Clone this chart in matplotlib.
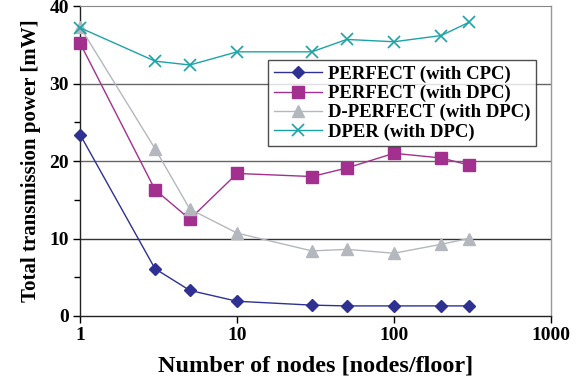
import matplotlib
matplotlib.use("Agg")
import matplotlib.pyplot as plt
from matplotlib.ticker import FixedLocator, NullLocator

nodes = [1, 3, 5, 10, 30, 50, 100, 200, 300]
perfect_cpc = [23.4, 6.1, 3.3, 1.9, 1.4, 1.3, 1.3, 1.3, 1.3]
perfect_dpc = [35.2, 16.3, 12.5, 18.4, 18.0, 19.1, 21.0, 20.4, 19.5]
d_perfect_dpc = [37.3, 21.6, 13.8, 10.7, 8.4, 8.6, 8.1, 9.25, 10.0]
dper_dpc = [37.2, 32.9, 32.4, 34.1, 34.1, 35.7, 35.4, 36.2, 37.9]
labels = ["PERFECT (with CPC)", "PERFECT (with DPC)", "D-PERFECT (with DPC)", "DPER (with DPC)"]
xticks = [1, 10, 100, 1000]
yticks = [0, 10, 20, 30, 40]

plt.rcParams['font.family'] = ['Liberation Serif', 'DejaVu Serif']
plt.rcParams['font.weight'] = 'bold'

fig = plt.figure(figsize=(5.81, 3.83), dpi=100)
ax = fig.add_axes([0.138, 0.175, 0.81, 0.809])

ax.plot(nodes, perfect_cpc, color='#2E3192', marker='D', markersize=6, lw=1, label=labels[0], clip_on=False, zorder=3)
ax.plot(nodes, perfect_dpc, color='#A3308F', marker='s', markersize=8, lw=1, label=labels[1], clip_on=False, zorder=3)
ax.plot(nodes, d_perfect_dpc, color='#B4B8BE', marker='^', markersize=8, lw=1, label=labels[2], clip_on=False, zorder=3)
ax.plot(nodes, dper_dpc, color='#1BA3A8', marker='x', markersize=9, mew=1.2, lw=1, label=labels[3], clip_on=False, zorder=3)

ax.set_xscale('log')
ax.set_xlim(1, 1000)
ax.set_ylim(0, 40)
ax.xaxis.set_major_locator(FixedLocator(xticks))
ax.xaxis.set_minor_locator(NullLocator())
ax.set_xticklabels([str(t) for t in xticks])
ax.yaxis.set_major_locator(FixedLocator(yticks))
ax.yaxis.set_minor_locator(FixedLocator([5, 15, 25, 35]))
ax.set_yticklabels([str(t) for t in yticks])

for g in [10, 20, 30]:
    ax.axhline(g, color='#333333' if g == 10 else '#666666', lw=1, zorder=0)

ax.tick_params(axis='both', which='major', labelsize=14, direction='out', length=5, width=1, pad=3)
ax.tick_params(axis='y', which='minor', direction='out', length=4, width=1)
for lab in ax.get_xticklabels() + ax.get_yticklabels():
    lab.set_fontweight('bold')

for s in ['left', 'bottom']:
    ax.spines[s].set_color('#222222')
    ax.spines[s].set_linewidth(1)
ax.spines['top'].set_color('#888888')
ax.spines['right'].set_color('#999999')
ax.spines['right'].set_linewidth(1)

ax.set_xlabel('Number of nodes [nodes/floor]', fontsize=17.5, fontweight='bold', labelpad=8)
ax.set_ylabel('Total transmission power [mW]', fontsize=15, fontweight='bold', labelpad=6)

leg = ax.legend(loc='upper left', bbox_to_anchor=(0.399, 0.826), fontsize=13.5, frameon=True,
                fancybox=False, edgecolor='#222222', handlelength=2.6, handletextpad=0.3,
                borderpad=0.3, labelspacing=0.1, borderaxespad=0)
leg.get_frame().set_linewidth(1)
leg.set_zorder(5)
for t in leg.get_texts():
    t.set_fontweight('bold')

fig.savefig('out.png', dpi=100)
